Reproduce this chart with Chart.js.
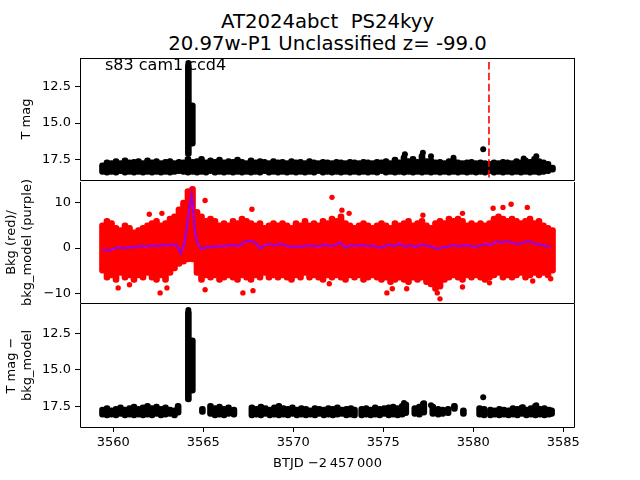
<!DOCTYPE html>
<html>
<head>
<meta charset="utf-8">
<script src="https://cdn.jsdelivr.net/npm/chart.js@4"></script>
<style>
body { margin: 0; background: #fff; }
#wrap { position: relative; width: 640px; height: 480px; overflow: hidden; font-family: "DejaVu Sans"; }
canvas { position: absolute; left: 0; }
.title { position: absolute; left: 0; width: 655px; text-align: center; font-size: 19.7px; line-height: 22px; color: #000; white-space: pre; }
</style>
</head>
<body>
<div id="wrap">
  <div class="title" style="top:10.5px">AT2024abct  PS24kyy
20.97w-P1 Unclassified z= -99.0</div>
  <canvas id="mag" width="640" height="192" style="top:0"></canvas>
  <canvas id="bkg" width="640" height="145" style="top:170px"></canvas>
  <canvas id="diff" width="640" height="190" style="top:290px"></canvas>
</div>
<script>
// time bins (BTJD) shared by the top two panels
const bandTimes = [
  3559.4, 3559.65, 3559.9, 3560.15, 3560.4, 3560.65, 3560.9, 3561.15, 3561.4, 3561.65,
  3561.9, 3562.15, 3562.4, 3562.65, 3562.9, 3563.15, 3563.4, 3563.65, 3563.9, 3564.15,
  3564.4, 3564.65, 3564.9, 3565.15, 3565.4, 3565.65, 3565.9, 3566.15, 3566.4, 3566.65,
  3566.9, 3567.15, 3567.4, 3567.65, 3567.9, 3568.15, 3568.4, 3568.65, 3568.9, 3569.15,
  3569.4, 3569.65, 3569.9, 3570.15, 3570.4, 3570.65, 3570.9, 3571.15, 3571.4, 3571.65,
  3571.9, 3572.15, 3572.4, 3572.65, 3572.9, 3573.15, 3573.4, 3573.65, 3573.9, 3574.15,
  3574.4, 3574.65, 3574.9, 3575.15, 3575.4, 3575.65, 3575.9, 3576.15, 3576.4, 3576.65,
  3576.9, 3577.15, 3577.4, 3577.65, 3577.9, 3578.15, 3578.4, 3578.65, 3578.9, 3579.15,
  3579.4, 3579.65, 3579.9, 3580.15, 3580.4, 3580.65, 3580.9, 3581.15, 3581.4, 3581.65,
  3581.9, 3582.15, 3582.4, 3582.65, 3582.9, 3583.15, 3583.4, 3583.65, 3583.9, 3584.15,
  3584.4
];

// panel 1: T mag, bright and faint edge of the dense band
const magBright = [
  17.75, 17.55, 17.6, 17.45, 17.6, 17.4, 17.55, 17.5, 17.45, 17.6,
  17.4, 17.55, 17.45, 17.6, 17.5, 17.45, 17.6, 17.5, 17.55, 17.3,
  17.5, 17.45, 17.3, 17.55, 17.4, 17.5, 17.35, 17.55, 17.45, 17.5,
  17.35, 17.5, 17.6, 17.4, 17.55, 17.45, 17.5, 17.6, 17.45, 17.55,
  17.5, 17.6, 17.45, 17.55, 17.5, 17.6, 17.45, 17.55, 17.6, 17.5,
  17.55, 17.6, 17.5, 17.55, 17.6, 17.5, 17.55, 17.6, 17.5, 17.55,
  17.6, 17.5, 17.55, 17.45, 17.6, 17.35, 17.55, 17.2, 17.45, 17.3,
  17.5, 17.1, 17.45, 17.4, 17.55, 17.5, 17.6, 17.45, 17.4, 17.55,
  17.6, 17.55, 17.5, 17.6, 17.55, 17.6, 17.65, 17.55, 17.6, 17.5,
  17.55, 17.6, 17.45, 17.55, 17.4, 17.5, 17.3, 17.45, 17.55, 17.65,
  17.9
];
const magFaint = [
  18.55, 18.6, 18.55, 18.6, 18.5, 18.6, 18.55, 18.6, 18.55, 18.6,
  18.55, 18.6, 18.55, 18.6, 18.55, 18.6, 18.55, 18.5, 18.55, 18.6,
  18.55, 18.6, 18.55, 18.6, 18.5, 18.6, 18.55, 18.6, 18.55, 18.6,
  18.55, 18.6, 18.55, 18.6, 18.55, 18.6, 18.5, 18.6, 18.55, 18.6,
  18.55, 18.6, 18.55, 18.6, 18.55, 18.6, 18.55, 18.6, 18.5, 18.6,
  18.55, 18.6, 18.55, 18.6, 18.55, 18.6, 18.55, 18.6, 18.55, 18.6,
  18.55, 18.6, 18.5, 18.6, 18.55, 18.6, 18.55, 18.6, 18.55, 18.6,
  18.55, 18.6, 18.55, 18.6, 18.55, 18.6, 18.55, 18.6, 18.55, 18.6,
  18.55, 18.6, 18.55, 18.6, 18.55, 18.6, 18.5, 18.6, 18.55, 18.6,
  18.55, 18.6, 18.55, 18.6, 18.55, 18.6, 18.55, 18.6, 18.55, 18.5,
  18.4
];
const flareTimes = [3564.17, 3564.39];
const magFlareBright = [10.85, 13.6];
const magFlareFaint = [17.3, 16.6];
const magSpotTimes = [3564.17, 3580.55, 3576.2, 3577.2, 3577.65, 3578.9, 3582.8, 3583.5];
const magSpotVals = [10.85, 16.81, 17.15, 17.05, 17.3, 17.4, 17.45, 17.3];
const dashTime = 3580.87;
const dashTop = 10.78;
const sectorLabel = "s83 cam1 ccd4";

// panel 2: background flux (red) band edges and outliers, model (purple)
const bkgHigh = [
  5.5, 6.5, 6.0, 5.0, 4.5, 5.5, 5.0, 4.0, 4.5, 5.0,
  5.5, 6.0, 6.5, 5.5, 6.0, 7.0, 7.5, 9.0, 10.5, 13.0,
  13.5, 8.5, 7.5, 6.5, 7.0, 6.5, 5.5, 6.0, 5.5, 6.5,
  6.0, 7.0, 6.5, 6.0, 5.5, 6.0, 5.0, 5.5, 6.0, 5.5,
  6.0, 5.5, 5.0, 6.0, 5.5, 6.5, 5.5, 6.0, 5.5, 6.5,
  6.0, 7.0, 6.5, 7.5, 6.0, 5.5, 5.0, 5.5, 6.0, 5.5,
  5.0, 5.5, 6.0, 5.5, 5.0, 6.0, 5.5, 6.0, 6.5, 5.5,
  6.0, 6.5, 5.5, 5.0, 6.0, 6.5, 6.0, 7.0, 6.5, 7.0,
  6.5, 5.5, 6.0, 5.5, 6.0, 5.5, 6.0, 7.0, 7.5, 7.0,
  6.5, 7.0, 6.5, 6.0, 6.5, 7.0, 6.0, 6.5, 5.5, 5.0,
  4.5
];
const bkgLow = [
  -5.5, -7.0, -6.5, -7.5, -6.0, -7.0, -6.5, -7.5, -6.5, -7.0,
  -6.0, -7.0, -7.5, -6.5, -7.5, -6.0, -5.0, -4.0, -3.5, -3.0,
  -3.0, -6.0, -7.5, -6.5, -7.0, -6.5, -7.5, -7.0, -6.5, -7.0,
  -7.5, -6.5, -7.0, -7.5, -6.5, -7.0, -6.0, -7.0, -6.5, -7.0,
  -6.5, -7.0, -7.5, -6.5, -7.0, -6.0, -7.0, -6.5, -7.0, -7.5,
  -6.5, -7.0, -6.5, -7.0, -7.5, -6.5, -7.0, -6.5, -7.5, -7.0,
  -6.5, -7.0, -7.5, -7.0, -8.0, -7.5, -7.0, -7.5, -8.0, -7.0,
  -7.5, -7.0, -8.0, -8.5, -9.5, -9.0, -7.5, -7.0, -6.5, -7.0,
  -7.5, -6.5, -7.0, -6.5, -7.0, -7.5, -7.0, -6.5, -6.0, -7.0,
  -6.5, -7.0, -6.5, -6.0, -7.0, -6.5, -6.0, -6.5, -6.0, -6.5,
  -5.5
];
const bkgSpotTimes = [3560.27, 3560.9, 3562.0, 3562.6, 3562.7, 3562.98, 3565.1, 3565.1, 3567.2, 3567.7,
  3567.76, 3572.0, 3572.15, 3572.7, 3573.1, 3575.2, 3575.5, 3576.3, 3577.2, 3578.0,
  3578.15, 3579.4, 3579.4, 3580.9, 3581.1, 3581.65, 3582.1, 3583.0, 3583.3, 3584.3];
const bkgSpotVals = [-8.7, -8.0, 7.4, -9.8, 7.6, -8.7, 10.4, -9.1, -9.8, 8.5,
  -9.3, -7.8, 11.1, 8.3, 7.6, -9.8, -8.9, -8.9, 7.2, -9.8,
  -11.1, 7.6, -8.5, -7.6, 8.7, 8.9, 9.6, 8.9, -7.2, -6.7];
const modelTimes = [
  3559.4, 3559.7, 3560.0, 3560.3, 3560.6, 3560.9, 3561.2, 3561.5, 3561.8, 3562.1,
  3562.4, 3562.7, 3563.0, 3563.3, 3563.55, 3563.75, 3563.95, 3564.1, 3564.25, 3564.35,
  3564.45, 3564.55, 3564.7, 3564.9, 3565.2, 3565.5, 3565.8, 3566.1, 3566.4, 3566.7,
  3567.0, 3567.3, 3567.6, 3567.9, 3568.15, 3568.4, 3568.7, 3569.0, 3569.3, 3569.6,
  3569.9, 3570.2, 3570.5, 3570.8, 3571.1, 3571.4, 3571.7, 3572.0, 3572.3, 3572.6,
  3572.9, 3573.2, 3573.5, 3573.8, 3574.1, 3574.4, 3574.7, 3575.0, 3575.3, 3575.6,
  3575.9, 3576.2, 3576.5, 3576.8, 3577.1, 3577.4, 3577.7, 3578.0, 3578.3, 3578.6,
  3578.9, 3579.2, 3579.5, 3579.8, 3580.1, 3580.4, 3580.7, 3581.0, 3581.3, 3581.6,
  3581.9, 3582.2, 3582.5, 3582.8, 3583.1, 3583.4, 3583.7, 3584.0, 3584.3
];
const modelVals = [
  -0.3, -0.6, -0.2, 0.2, -0.1, 0.3, 0.1, 0.5, 0.3, 0.6,
  0.4, 0.7, 0.5, 0.9, 0.4, -1.1, 1.0, 5.0, 9.5, 11.7,
  8.0, 3.0, 0.8, -0.2, 0.3, 0.2, 0.5, 0.3, 0.6, 0.7,
  0.5, 1.4, 1.6, 1.2, -0.1, 0.6, 0.9, 0.6, 1.0, 0.5,
  0.2, 0.4, 0.3, 0.6, 0.5, 0.3, 0.8, 0.4, 0.6, 1.2,
  0.1, 0.6, 0.5, 0.7, 0.4, 0.6, 0.1, 0.3, 0.7, 0.4,
  1.0, 0.3, 0.6, 0.2, 0.8, 0.5, 0.3, -0.2, 0.2, 0.3,
  0.7, 0.4, 0.6, 0.5, 0.2, 0.6, 0.9, 0.7, 1.5, 1.2,
  1.6, 1.1, 0.8, 1.3, 1.6, 0.9, 0.8, 0.5, 0.2
];

// panel 3: T mag - bkg_model, clumps
const diffTimes = [
  3559.4, 3559.65, 3559.9, 3560.15, 3560.4, 3560.65, 3560.9, 3561.15, 3561.4, 3561.65,
  3561.9, 3562.15, 3562.4, 3562.65, 3562.9, 3563.15, 3563.4, 3563.6,
  3564.95,
  3565.4, 3565.65, 3565.9, 3566.15, 3566.4, 3566.7,
  3567.7, 3567.95, 3568.2, 3568.45, 3568.7, 3568.95, 3569.2, 3569.45, 3569.7, 3569.95,
  3570.2, 3570.45, 3570.7, 3570.95, 3571.2, 3571.45, 3571.7, 3571.95, 3572.2, 3572.45,
  3572.7, 3572.95, 3573.2, 3573.4,
  3573.8, 3574.05, 3574.3, 3574.55, 3574.8, 3575.05, 3575.3, 3575.55, 3575.8, 3576.05, 3576.25,
  3576.75, 3577.0, 3577.25,
  3577.75, 3578.05, 3578.3, 3578.6,
  3578.95,
  3579.45,
  3580.35, 3580.6,
  3580.95, 3581.2, 3581.45, 3581.7, 3581.95, 3582.2, 3582.45, 3582.7, 3582.95, 3583.2,
  3583.45, 3583.7, 3583.95, 3584.2, 3584.35
];
const diffBright = [
  17.55, 17.45, 17.6, 17.5, 17.4, 17.55, 17.45, 17.35, 17.5, 17.4,
  17.3, 17.45, 17.35, 17.5, 17.4, 17.55, 17.6, 17.3,
  17.5,
  17.3, 17.45, 17.35, 17.5, 17.4, 17.55,
  17.4, 17.5, 17.35, 17.45, 17.55, 17.4, 17.3, 17.45, 17.5, 17.4,
  17.55, 17.45, 17.5, 17.6, 17.45, 17.5, 17.55, 17.45, 17.5, 17.4,
  17.55, 17.5, 17.45, 17.55,
  17.5, 17.45, 17.55, 17.4, 17.5, 17.45, 17.4, 17.35, 17.45, 17.3, 17.2,
  17.45, 17.35, 17.1,
  17.35, 17.5, 17.55, 17.5,
  17.3,
  17.6,
  17.45, 17.5,
  17.55, 17.6, 17.5, 17.55, 17.6, 17.45, 17.5, 17.4, 17.55, 17.45,
  17.3, 17.5, 17.45, 17.55, 17.6
];
const diffFaint = [
  18.25, 18.3, 18.25, 18.3, 18.2, 18.3, 18.25, 18.3, 18.25, 18.3,
  18.25, 18.3, 18.2, 18.3, 18.25, 18.2, 18.3, 18.1,
  18.05,
  18.2, 18.3, 18.25, 18.3, 18.2, 18.25,
  18.3, 18.25, 18.3, 18.2, 18.3, 18.25, 18.3, 18.25, 18.3, 18.2,
  18.3, 18.25, 18.3, 18.25, 18.3, 18.2, 18.3, 18.25, 18.3, 18.25,
  18.2, 18.3, 18.25, 18.3,
  18.3, 18.25, 18.3, 18.25, 18.3, 18.2, 18.3, 18.25, 18.3, 18.25, 18.15,
  18.2, 18.25, 18.1,
  18.2, 18.25, 18.2, 18.15,
  17.85,
  18.2,
  18.25, 18.3,
  18.3, 18.25, 18.3, 18.25, 18.3, 18.25, 18.3, 18.2, 18.3, 18.25,
  18.3, 18.25, 18.3, 18.25, 18.2
];
const diffFlareBright = [10.9, 12.8];
const diffFlareFaint = [17.2, 16.6];
const diffSpotTimes = [3564.17, 3580.55, 3576.15, 3577.2, 3577.65, 3578.95, 3582.76, 3583.5];
const diffSpotVals = [10.9, 16.88, 17.28, 17.35, 17.42, 17.49, 17.56, 17.42];

// axes
const xMin = 3558.15, xMax = 3585.65;
const xTicks = [3560, 3565, 3570, 3575, 3580, 3585];
const magTicks = [12.5, 15.0, 17.5];
const bkgTicks = [-10, 0, 10];

Chart.defaults.font.family = "DejaVu Sans";
Chart.defaults.font.size = 13;
Chart.defaults.color = "#000";

// one-pixel box round a panel; lower panels leave the shared top edge to the panel above
function frame(withTop) {
  return {
    id: "frame",
    afterDatasetsDraw(chart) {
      const { ctx, chartArea: a } = chart;
      const l = Math.round(a.left) + 0.5, t = Math.round(a.top) + 0.5;
      const r = Math.round(a.right) - 0.5, b = Math.round(a.bottom) + 0.5;
      ctx.save();
      ctx.strokeStyle = "#000";
      ctx.lineWidth = 1;
      ctx.beginPath();
      if (withTop) {
        ctx.moveTo(l, t);
        ctx.lineTo(r, t);
      }
      ctx.moveTo(l, t - 0.5);
      ctx.lineTo(l, b);
      ctx.lineTo(r, b);
      ctx.lineTo(r, t - 0.5);
      ctx.stroke();
      ctx.restore();
    }
  };
}

const sector = {
  id: "sector",
  beforeDatasetsDraw(chart) {
    const { ctx, chartArea: a } = chart;
    ctx.save();
    ctx.font = '16px "DejaVu Sans"';
    ctx.fillStyle = "#000";
    ctx.textBaseline = "alphabetic";
    ctx.fillText(sectorLabel, a.left + 25, a.top + 12);
    ctx.restore();
  }
};

function pairs(xs, ys) {
  return xs.map((x, i) => ({ x, y: ys[i] }));
}
function ranges(xs, lo, hi) {
  return xs.map((x, i) => ({ x, y: [lo[i], hi[i]] }));
}
function bars(data, color, thick) {
  return { type: "bar", data, backgroundColor: color, barThickness: thick,
           borderRadius: thick / 2, borderSkipped: false, grouped: false };
}
function dots(data, color, r) {
  return { type: "scatter", data, pointRadius: r, pointBackgroundColor: color,
           pointBorderWidth: 0, showLine: false };
}

function makeOptions(o) {
  return {
    responsive: false,
    animation: false,
    devicePixelRatio: 1,
    layout: { padding: { left: 0, right: 65, top: o.padTop, bottom: o.padBottom } },
    plugins: { legend: { display: false }, tooltip: { enabled: false } },
    scales: {
      x: {
        type: "linear", min: xMin, max: xMax, display: o.showX, offset: false,
        afterBuildTicks: s => { s.ticks = xTicks.map(v => ({ value: v })); },
        afterFit: s => { if (o.showX) s.height = 53; },
        grid: { offset: false, drawOnChartArea: false, tickLength: 5, tickColor: "#000" },
        border: { display: false },
        ticks: { padding: 3, maxRotation: 0, callback: v => String(v) },
        title: { display: true, text: "BTJD \u22122\u2009457\u2009000", padding: { top: 0, bottom: 9 } }
      },
      y: {
        type: "linear", min: o.yMin, max: o.yMax, reverse: o.reverse,
        afterBuildTicks: s => { s.ticks = o.yTicks.map(v => ({ value: v })); },
        afterFit: s => { s.width = 80; },
        grid: { drawOnChartArea: false, tickLength: 5, tickColor: "#000" },
        border: { display: false },
        ticks: { padding: 4, callback: o.fmt },
        title: { display: true, text: o.yTitle, padding: { top: o.titlePad, bottom: 0 } }
      }
    }
  };
}

const fmtMag = v => v.toFixed(1);
const fmtBkg = v => (v < 0 ? "\u2212" + Math.abs(v) : String(v));

new Chart(document.getElementById("mag"), {
  type: "scatter",
  data: {
    datasets: [
      { type: "line", data: [{ x: dashTime, y: dashTop }, { x: dashTime, y: 18.95 }],
        borderColor: "#ff0000", borderWidth: 1.6, borderDash: [7.5, 3.3], pointRadius: 0, fill: false },
      dots(pairs(magSpotTimes, magSpotVals), "#000", 3),
      bars(ranges(flareTimes, magFlareBright, magFlareFaint), "#000", 6),
      bars(ranges(bandTimes, magBright, magFaint), "#000", 6)
    ]
  },
  options: makeOptions({ padTop: 58, padBottom: 11, showX: false, yMin: 10.5, yMax: 18.95, reverse: true,
                         yTicks: magTicks, fmt: fmtMag, yTitle: "T mag", titlePad: 19 }),
  plugins: [sector, frame(true)]
});

new Chart(document.getElementById("bkg"), {
  type: "scatter",
  data: {
    datasets: [
      { type: "line", data: pairs(modelTimes, modelVals), borderColor: "#a000d0", borderWidth: 2.5,
        pointRadius: 0, tension: 0, fill: false },
      dots(pairs(bkgSpotTimes, bkgSpotVals), "#ff0000", 2.7),
      bars(ranges(bandTimes, bkgLow, bkgHigh), "#ff0000", 6)
    ]
  },
  options: makeOptions({ padTop: 11, padBottom: 11, showX: false, yMin: -12.05, yMax: 14.5, reverse: false,
                         yTicks: bkgTicks, fmt: fmtBkg, yTitle: ["Bkg (red)/", "bkg_model (purple)"], titlePad: 4 }),
  plugins: [frame(false)]
});

new Chart(document.getElementById("diff"), {
  type: "scatter",
  data: {
    datasets: [
      dots(pairs(diffSpotTimes, diffSpotVals), "#000", 3),
      bars(ranges(flareTimes, diffFlareBright, diffFlareFaint), "#000", 6),
      bars(ranges(diffTimes, diffBright, diffFaint), "#000", 6)
    ]
  },
  options: makeOptions({ padTop: 14, padBottom: 0, showX: true, yMin: 10.48, yMax: 18.92, reverse: true,
                         yTicks: magTicks, fmt: fmtMag, yTitle: ["T mag \u2212", "bkg_model"], titlePad: 4 }),
  plugins: [frame(false)]
});
</script>
</body>
</html>
